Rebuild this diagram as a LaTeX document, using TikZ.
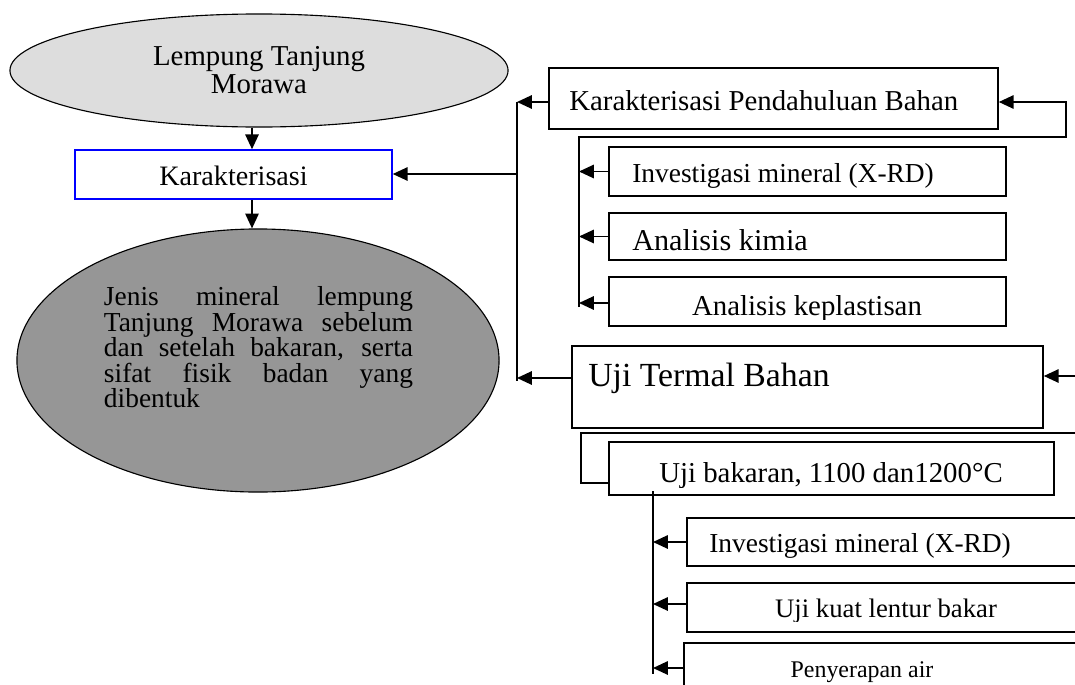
\documentclass[tikz,border=0pt]{standalone}
\usepackage{fontspec}
\setmainfont{Liberation Serif}
\usetikzlibrary{arrows.meta,positioning,fit,shapes.geometric}
\definecolor{kblue}{HTML}{0000FF}
\definecolor{claypale}{HTML}{DDDDDD}
\definecolor{claydark}{HTML}{969696}
\tikzset{
  >={Triangle[length=10.5pt,width=9.5pt]},
  box/.style={draw=black,line width=1.1pt,fill=white,inner sep=0pt},
  blob/.style={ellipse,draw=black,line width=.8pt,inner sep=0pt},
  flow/.style={->,line width=1.1pt},
  wire/.style={line width=1.1pt},
  txt/.style={inner sep=0pt},
}
\newcommand{\fs}[1]{\fontsize{#1}{1.15\dimexpr#1pt\relax}\selectfont}

\begin{document}
\begin{tikzpicture}[x=0.025cm,y=-0.025cm]
  \clip (0,0) rectangle (1075,684);

  % left column
  \node[blob,fill=claypale,minimum width=12.45cm,minimum height=2.825cm,align=center,
    font=\fontsize{20.5}{20}\selectfont] (lempung) at (259,70.5) {Lempung Tanjung\\Morawa};
  \node[box,draw=kblue,fit={(75,150) (392,199)}] (karak) {};
  \node[txt,anchor=base,font=\fs{20}] (tkarak) at (233.5,185) {Karakterisasi};
  \node[blob,fill=claydark,minimum width=12.05cm,minimum height=6.575cm] (hasil) at (258,360.5) {};
  \node[txt,text width=7.725cm,align=justify,font=\fontsize{19.5}{18.1}\selectfont]
    (thasil) at (258.5,347.5) {Jenis mineral lempung\linebreak
    Tanjung Morawa sebelum\linebreak dan setelah bakaran, serta\linebreak
    sifat fisik badan yang\linebreak dibentuk};
  \coordinate (down) at (252,0);
  \draw[flow] (lempung.south -| down) -- (karak.north -| down);
  \draw[flow] (karak.south -| down) -- (hasil.north -| down);

  % karakterisasi pendahuluan
  \node[box,fit={(549,68) (998,129)}] (kpb) {};
  \node[txt,anchor=base west,font=\fs{20.5}] (tkpb) at (569,110)
    {Karakterisasi Pendahuluan Bahan};
  \node[box,fit={(609,147) (1006,196)}] (inv1) {};
  \begin{scope}
    \clip (609,147) rectangle (1006,187);
    \node[txt,anchor=base west,font=\fs{19.5}] (tinv1) at (632,182)
      {Investigasi mineral (X-RD)};
  \end{scope}
  \node[box,fit={(609,213) (1006,260)}] (kimia) {};
  \node[txt,anchor=base west,font=\fs{21.5}] (tkimia) at (632,250) {Analisis kimia};
  \node[box,fit={(609,277) (1006,326)}] (plast) {};
  \begin{scope}
    \clip (609,277) rectangle (1006,319);
    \node[txt,anchor=base,font=\fs{20.5}] (tplast) at (807,315) {Analisis keplastisan};
  \end{scope}

  % uji termal
  \node[box,fit={(572,346) (1043,428)}] (termal) {};
  \node[txt,anchor=base west,font=\fs{24}] (ttermal) at (588,386) {Uji Termal Bahan};
  \node[box,fit={(609,442) (1054,495)}] (bakar) {};
  \begin{scope}
    \clip (609,442) rectangle (1054,487);
    \node[txt,anchor=base,font=\fs{20.5}] (tbakar) at (831,482)
      {Uji bakaran, 1100 dan1200°C};
  \end{scope}
  \node[box,fit={(687,518) (1090,566)}] (inv2) {};
  \begin{scope}
    \clip (687,518) rectangle (1090,557);
    \node[txt,anchor=base west,font=\fs{19.5}] (tinv2) at (709,552)
      {Investigasi mineral (X-RD)};
  \end{scope}
  \node[box,fit={(687,583) (1090,632)}] (lentur) {};
  \begin{scope}
    \clip (687,583) rectangle (1090,621);
    \node[txt,anchor=base,font=\fs{19}] (tlentur) at (886,617) {Uji kuat lentur bakar};
  \end{scope}
  \node[box,fit={(684,643) (1090,700)}] (serap) {};
  \node[txt,anchor=base,font=\fs{17}] (tserap) at (862,677) {Penyerapan air};

  % main bus
  \coordinate (bustop) at (517,102);
  \coordinate (busbot) at (517,378);
  \draw[wire] (bustop) -- ([yshift=-2]busbot);
  \draw[flow] (kpb.west |- bustop) -- (bustop);
  \draw[flow] (bustop |- 0,174) -- (karak.east |- 0,174);
  \draw[flow] (termal.west |- busbot) -- (busbot);

  % feedback of the first group
  \coordinate (fbtop) at (1066,102);
  \coordinate (fbbot) at (1066,137);
  \coordinate (subtop) at (579,137);
  \coordinate (subbot) at (579,307);
  \draw[flow] (subbot) -- (subtop) -- (fbbot) -- (fbtop) -- (kpb.east |- fbtop);
  \draw[flow] (inv1.west) -- (inv1.west -| subtop);
  \draw[flow] (kimia.west) -- (kimia.west -| subtop);
  \draw[flow] (plast.west |- 0,303) -- (subtop |- 0,303);

  % second group
  \coordinate (tin) at (1075,376);
  \draw[flow] (tin) -- (termal.east |- tin);
  \coordinate (bkin) at (1075,433);
  \coordinate (bkturn) at (581,433);
  \coordinate (bkfoot) at (581,483);
  \draw[wire] (bkin) -- (bkturn) -- (bkfoot) -- (bakar.west |- bkfoot);
  \coordinate (lowtop) at (653,491);
  \coordinate (lowbot) at (653,674);
  \draw[wire] (lowtop) -- (lowbot);
  \draw[flow] (inv2.west) -- (inv2.west -| lowtop);
  \draw[flow] (lentur.west |- 0,604) -- (lowtop |- 0,604);
  \draw[flow] (serap.west |- 0,668) -- (lowtop |- 0,668);
\end{tikzpicture}
\end{document}
